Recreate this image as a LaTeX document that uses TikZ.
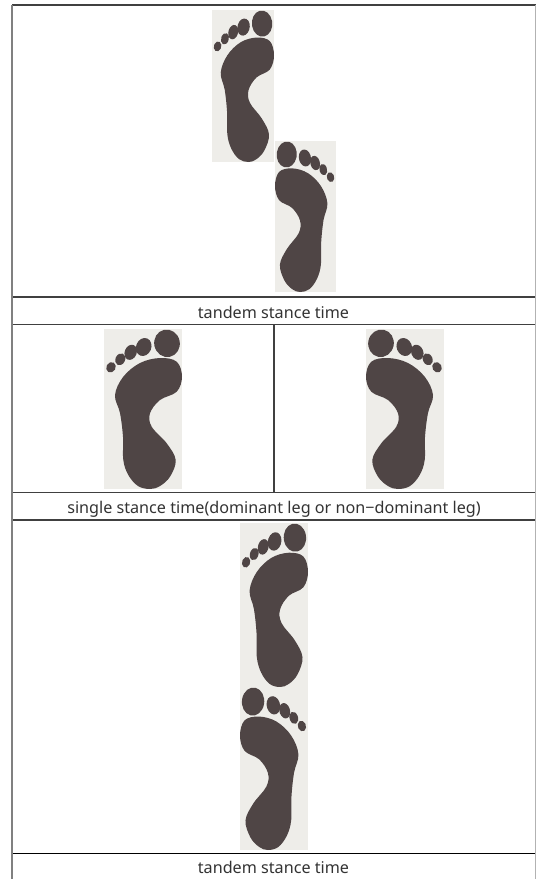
\documentclass[tikz,border=0pt]{standalone}
\usepackage{fontspec}
\setmainfont{Noto Sans}
\usepackage{xcolor}
\definecolor{footdark}{RGB}{79,69,69}
\definecolor{footpaper}{RGB}{238,237,233}
\tikzset{
  darkrule/.style={draw=black!75,line width=1.5*0.567pt},
  siderule/.style={draw=black!50,line width=2*0.567pt},
  caption/.style={font=\fontsize{9.2}{11}\selectfont,text=black!80,inner sep=0pt,anchor=base},
}
% one footprint in a 78 x 160 box, toes at the top, big toe on the right
\newcommand{\footprint}{%
  \fill[footpaper] (0,0) rectangle (78,160);
  \fill[footdark,rotate around={12:(63,14.3)}] (63,14.3) ellipse (12.8 and 13.8);
  \fill[footdark,rotate around={-22:(39.7,18)}] (39.7,18) ellipse (7.6 and 9.2);
  \fill[footdark,rotate around={-22:(26.7,23.3)}] (26.7,23.3) ellipse (6 and 7.8);
  \fill[footdark,rotate around={-25:(16.3,30.3)}] (16.3,30.3) ellipse (4.8 and 6.2);
  \fill[footdark,rotate around={-30:(7,38.3)}] (7,38.3) ellipse (4.6 and 5.4);
  \fill[footdark] plot[smooth cycle,tension=0.6] coordinates {
    (56,29) (72.7,32.7) (78,47.7) (72.7,62.7) (56,71) (46,84.3) (47.7,97.7)
    (62.7,114.3) (71.7,131) (66,147.7) (56,157) (46,160) (34,157) (24.3,146)
    (19.3,131) (19,108) (16,84) (11,66) (19.3,47.7) (36,34)};
}
\begin{document}
\begin{tikzpicture}[x=0.02cm,y=-0.02cm]
  \useasboundingbox (0,0) rectangle (536,879);
  \fill[white] (0,0) rectangle (536,879);
  % feet: x / y / width (negative is mirrored) / height
  \foreach \fx/\fy/\fw/\fh in {212/10/62/152,336/141/-61/151,104/329/78/160,
      444/329/-78/160,240/523/68/164,308/687/-68/163} {
    \begin{scope}[shift={(\fx,\fy)},xscale=\fw/78,yscale=\fh/160]
      \footprint
    \end{scope}
  }
  % table rules
  \draw[darkrule] (12,5) -- (536,5);
  \foreach \ry in {297,324.5,492.5,520}
    \draw[darkrule] (12,\ry) -- (536,\ry);
  \draw[draw=black,line width=0.85pt] (12,853.3) -- (536,853.3);
  \draw[darkrule] (274,324.5) -- (274,492.5);
  \draw[siderule] (12,5) -- (12,879);
  \draw[draw=black!30,line width=0.567pt] (535,5) -- (535,879);
  % captions
  \node[caption] (capfirst) at (273.5,318.5) {tandem stance time};
  \node[caption] (capsecond) at (274,513) {single stance time(dominant leg or non−dominant leg)};
  \node[caption] (capthird) at (273.5,873.7) {tandem stance time};
\end{tikzpicture}
\end{document}
